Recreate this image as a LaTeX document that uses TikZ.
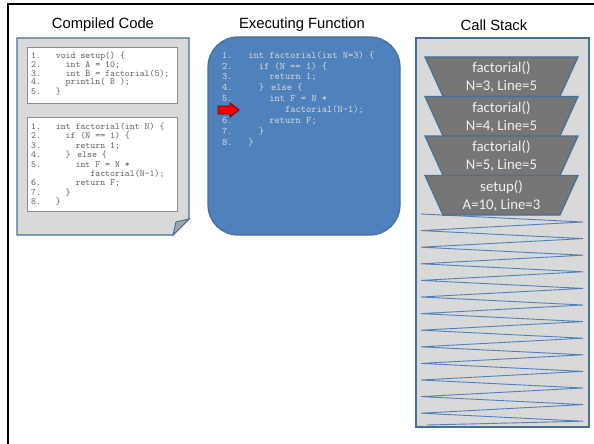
\documentclass[tikz,border=0pt]{standalone}
\usepackage{fontspec}
\setmainfont{Liberation Sans}
\newfontfamily\stackfont{Carlito}
\definecolor{pagegray}{HTML}{D9D9D9}
\definecolor{edgeblue}{HTML}{41719C}
\definecolor{fillblue}{HTML}{4F81BD}
\definecolor{framegray}{HTML}{767676}
\definecolor{flapgray}{HTML}{A6A6A6}
\definecolor{codegray}{HTML}{666666}

\begin{document}
\begin{tikzpicture}[x=1pt,y=-1pt,
		title/.style={font=\fontsize{14.8}{17}\selectfont, inner sep=0pt},
		panel/.style={fill=pagegray, draw=edgeblue, line width=1.2pt},
		listing/.style={align=left, anchor=north west, inner sep=0pt, text=codegray},
		frame/.style={fill=framegray, draw=edgeblue, line width=1.2pt},
		frametext/.style={align=center, text=white!95!black, inner sep=0pt, font=\stackfont\fontsize{14.8}{18}\selectfont}]
			%%%%% START %%%%%
			\useasboundingbox (0,0) rectangle (594,444);
			
			\draw[line width=2.5pt] (8,444) -- (8,4) -- (594,4);
			
			% titles
			\node[title] (compiledtitle) at (103,25) {Compiled Code};
			\node[title] (exectitle) at (302,25) {Executing Function};
			\node[title] (stacktitle) at (494,25) {Call Stack};
			
			% compiled code page
			\draw[panel] (17,38) -- (189,38) -- (189,219) -- (173,235) -- (17,235) -- cycle;
			\draw[fill=flapgray, draw=edgeblue, line width=1pt] (189,219) -- (176,222) -- (173,235) -- cycle;
			
			\draw[fill=white, draw=black!45, line width=0.8pt] (27,47) rectangle (177,103);
			\node[listing, font=\ttfamily\fontsize{9.4}{7.6}\selectfont] (setupcode) at (31,51.5) {%
				1.~~~void setup() \{\\
				2.~~~~~int A = 10;\\
				3.~~~~~int B = factorial(5);\\
				4.~~~~~println( B );\\
				5.~~~\}};
			
			\draw[fill=white, draw=black!45, line width=0.8pt] (27,117) rectangle (177,211);
			\node[listing, font=\ttfamily\fontsize{9.4}{9.45}\selectfont] (factcode) at (31,122.5) {%
				1.~~~int factorial(int N) \{\\
				2.~~~~~if (N == 1) \{\\
				3.~~~~~~~return 1;\\
				4.~~~~~\} else \{\\
				5.~~~~~~~int F = N *\\
				~~~~~~~~~~~~factorial(N-1);\\
				6.~~~~~~~return F;\\
				7.~~~~~\}\\
				8.~~~\}};
			
			% executing function
			\draw[fill=fillblue, draw=edgeblue, line width=1.2pt, rounded corners=30pt] (208,37) rectangle (400,235);
			\node[listing, text=white!85!black, font=\ttfamily\fontsize{10}{10.9}\selectfont] (runcode) at (222,51) {%
				1.~~~int factorial(int N=3) \{\\
				2.~~~~~if (N == 1) \{\\
				3.~~~~~~~return 1;\\
				4.~~~~~\} else \{\\
				5.~~~~~~~int F = N *\\
				~~~~~~~~~~~~factorial(N-1);\\
				6.~~~~~~~return F;\\
				7.~~~~~\}\\
				8.~~~\}};
			\draw[fill=red, draw=black!60!red, line width=0.8pt] (218,106) -- (230,106) -- (230,103) -- (239,110) -- (230,117) -- (230,114) -- (218,114) -- cycle;
			
			% call stack
			\draw[panel] (416,38) rectangle (589,427);
			\draw[fillblue, line width=0.9pt] (421,214)
				\foreach \k in {0,...,11} { -- (583,{222+16.6*\k}) -- (421,{230.6+16.6*\k}) }
				-- (583,421.2) -- (427,425);
			
			\foreach \k/\fname/\fvars in {0/factorial()/{N=3, Line=5}, 1/factorial()/{N=4, Line=5}, 2/factorial()/{N=5, Line=5}, 3/setup()/{A=10, Line=3}} {
				\draw[frame] (425,{57+39.5*\k}) -- (578,{57+39.5*\k}) -- (560,{96.5+39.5*\k}) -- (443,{96.5+39.5*\k}) -- cycle;
				\node[frametext] (frame\k) at (501.5,{77.5+39.5*\k}) {\fname\\\fvars};
			}
			
			%%%%% END %%%%%
\end{tikzpicture}
\end{document}
